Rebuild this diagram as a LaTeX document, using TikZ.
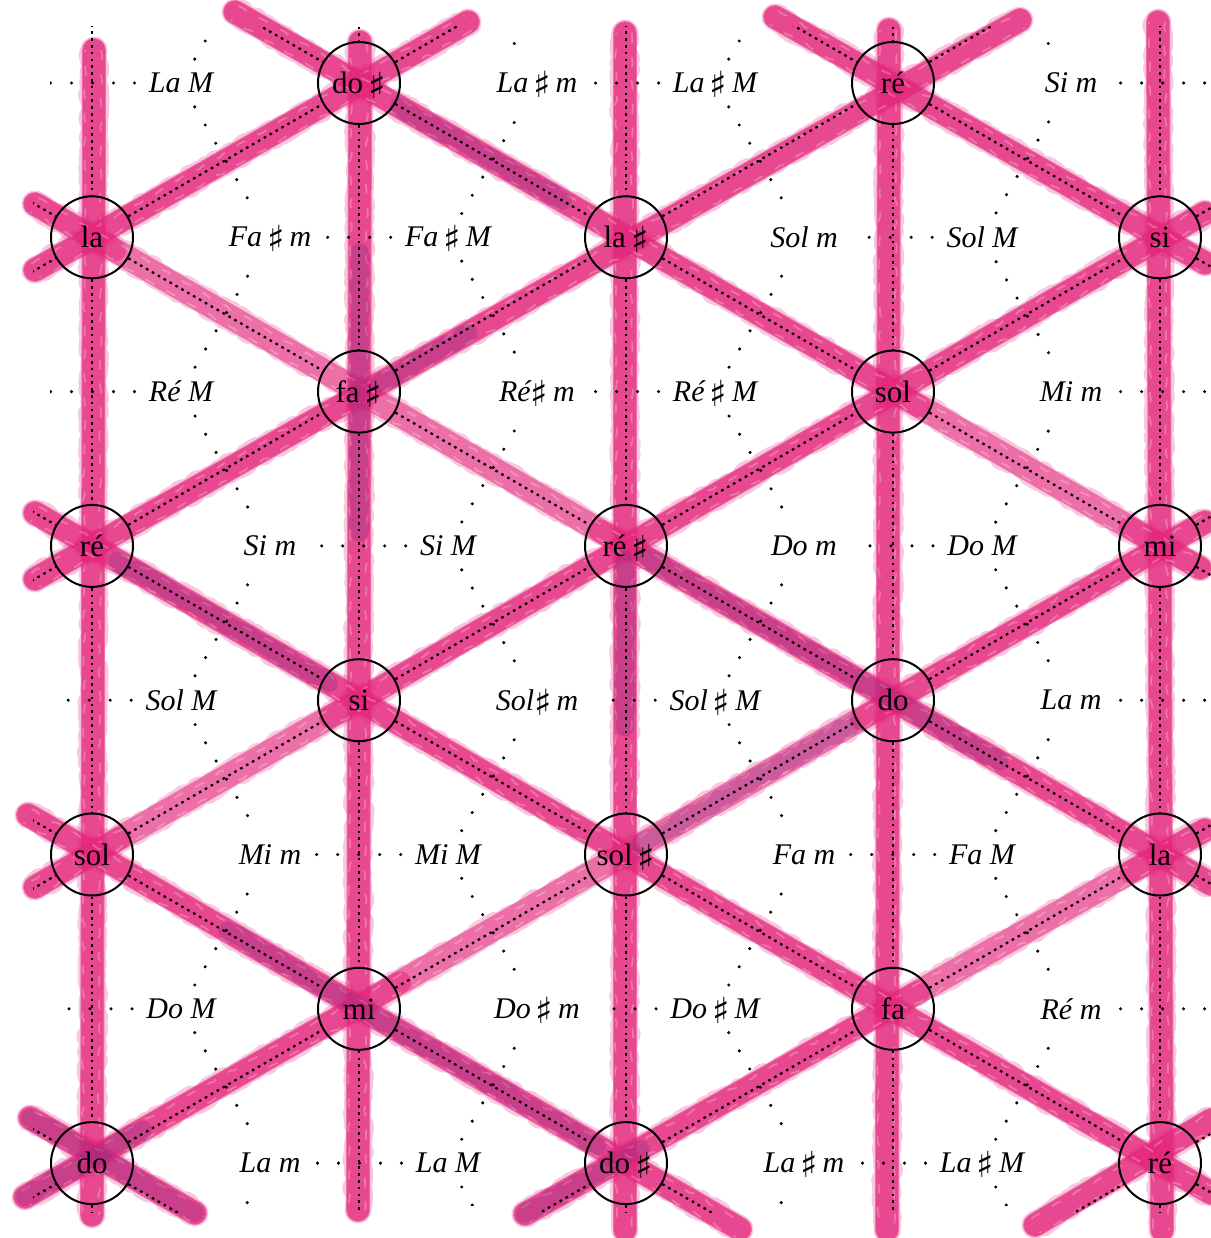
\documentclass[tikz,border=0pt]{standalone}
\usepackage{fontspec}
\setmainfont{Liberation Serif}
\newfontfamily\symf{DejaVu Sans}
\newcommand\shp{\smash{\raisebox{-2.5pt}{\symf\fontsize{18}{20}\selectfont ♯}}}
\usetikzlibrary{calc,decorations.pathmorphing}
\definecolor{pinkc}{RGB}{228,40,125}
\definecolor{purplec}{RGB}{135,45,125}
\tikzset{
  crayonbase/.style={line width=12pt, color=pinkc, opacity=0.55, line cap=round},
  crayonrough/.style={line width=13.5pt, color=pinkc, opacity=0.25, line cap=round, line join=round,
     decorate, decoration={random steps, segment length=2pt, amplitude=1.2pt}},
  crayondense/.style={line width=11pt, color=pinkc, opacity=0.55, line cap=round},
  crayonpurple/.style={line width=9pt, color=purplec, opacity=0.3, line cap=round, line join=round,
     decorate, decoration={random steps, segment length=2pt, amplitude=1pt}},
  streak/.style={line width=0.9pt, color=white, opacity=0.25, dash pattern=on 5pt off 7pt,
     line join=round, decorate, decoration={random steps, segment length=3pt, amplitude=0.6pt}},
  note/.style={circle, draw=black, line width=1pt, minimum size=41pt, inner sep=0pt,
     font=\fontsize{15.5}{18}\selectfont},
  ghostnote/.style={circle, minimum size=41pt, inner sep=0pt},
  chord/.style={font=\fontsize{15}{18}\selectfont\itshape, inner xsep=5pt, inner ysep=5pt},
  ghostchord/.style={minimum width=40pt, minimum height=20pt, inner sep=0pt},
  primdot/.style={line width=1.1pt, dash pattern=on 1.3pt off 2.1pt, black},
  dualdot/.style={line width=1.7pt, line cap=round, dash pattern=on 0pt off 10.5pt, black,
     shorten <=2pt, shorten >=2pt}
}
\newcommand\pinkline[3]{%
  \draw[crayonbase] #1 -- #2;
  \draw[crayonrough] #1 -- #2;
  \foreach \ta/\tb in {#3}{\draw[crayondense] ($#1!\ta!#2$) -- ($#1!\tb!#2$);}
  \draw[streak] ($#1!3.5pt!90:#2$) -- ($#2!3.5pt!-90:#1$);
  \draw[streak, dash phase=4pt] ($#1!4.5pt!-90:#2$) -- ($#2!4.5pt!90:#1$);
}
\newcommand\purpleseg[4]{\draw[crayonpurple] ($#1!#3!#2$) -- ($#1!#4!#2$);}
\begin{document}
\begin{tikzpicture}[x=0.5pt, y=-0.5pt]
\useasboundingbox (0,0) rectangle (1211,1238);
\fill[white] (0,0) rectangle (1211,1238);

% ---- crayon lines ----
\pinkline{(94,50)}{(92,1215)}{0/1}
\pinkline{(360,42)}{(358,1210)}{0/1}
\pinkline{(625,33)}{(625,1230)}{0/1}
\pinkline{(889,30)}{(887,1230)}{0/1}
\pinkline{(1158,22)}{(1162,1230)}{0/1}
\pinkline{(35,270)}{(468,22)}{0/1}
\pinkline{(35,579)}{(1020,20)}{0/1}
\pinkline{(35,887)}{(1205,213)}{0/0.073,0.252/1}
\pinkline{(25,1197)}{(1205,522)}{0/0.318,0.708/1}
\pinkline{(525,1214)}{(1205,830)}{0/0.58,0.89/1}
\pinkline{(1035,1225)}{(1211,1120)}{0/1}
\pinkline{(235,12)}{(1200,568)}{0/0.71,0.927/1}
\pinkline{(775,17)}{(1205,263)}{0/1}
\pinkline{(35,204)}{(1211,884)}{0/0.068,0.48/1}
\pinkline{(35,513)}{(1211,1193)}{0/1}
\pinkline{(28,815)}{(740,1229)}{0/1}
\pinkline{(30,1118)}{(195,1213)}{0/1}
\purpleseg{(360,42)}{(358,1210)}{0.18}{0.42}
\purpleseg{(625,33)}{(625,1230)}{0.44}{0.58}
\purpleseg{(35,579)}{(1020,20)}{0.35}{0.44}
\purpleseg{(25,1197)}{(1205,522)}{0}{0.1}
\purpleseg{(25,1197)}{(1205,522)}{0.52}{0.7}
\purpleseg{(525,1214)}{(1205,830)}{0}{0.17}
\purpleseg{(235,12)}{(1200,568)}{0.17}{0.34}
\purpleseg{(35,204)}{(1211,884)}{0.52}{0.82}
\purpleseg{(35,513)}{(1211,1193)}{0.07}{0.25}
\purpleseg{(28,815)}{(740,1229)}{0.28}{0.8}
\purpleseg{(30,1118)}{(195,1213)}{0}{1}

% ---- lattice nodes (ghosts outside the sheet) ----
\foreach \ii in {0,...,6}{\foreach \jj in {0,...,11}{
  \pgfmathtruncatemacro\myp{mod(\ii+\jj,2)}
  \ifnum\myp=0
    \node[ghostnote] (N-\ii-\jj) at ({92+267*(\ii-1)},{83+154.3*(\jj-2)}) {};
  \fi
}}
\foreach \ii/\jj/\t in {2/2/{do\,\shp}, 4/2/{ré},
   1/3/{la}, 3/3/{la\,\shp}, 5/3/{si},
   2/4/{fa\,\shp}, 4/4/{sol},
   1/5/{ré}, 3/5/{ré\,\shp}, 5/5/{mi},
   2/6/{si}, 4/6/{do},
   1/7/{sol}, 3/7/{sol\,\shp}, 5/7/{la},
   2/8/{mi}, 4/8/{fa},
   1/9/{do}, 3/9/{do\,\shp}, 5/9/{ré}}{
  \node[note] (N-\ii-\jj) at ({92+267*(\ii-1)},{83+154.3*(\jj-2)}) {\t};
}

% ---- chord nodes (ghosts outside the sheet) ----
\foreach \gg in {0,...,5}{\foreach \jj in {0,...,9}{
  \node[ghostchord] (D-\gg-\jj) at ({92+267*(\gg-1+1/3+mod(\gg+\jj,2)/3)},{83+154.3*(\jj-1)}) {};
}}
\foreach \gg/\jj/\t in {
   1/1/{La M}, 2/1/{La\,\shp\,m}, 3/1/{La\,\shp\,M}, 4/1/{Si m},
   1/2/{Fa\,\shp\,m}, 2/2/{Fa\,\shp\,M}, 3/2/{Sol m}, 4/2/{Sol M},
   1/3/{Ré M}, 2/3/{Ré\shp\,m}, 3/3/{Ré\,\shp\,M}, 4/3/{Mi m},
   1/4/{Si m}, 2/4/{Si M}, 3/4/{Do m}, 4/4/{Do M},
   1/5/{Sol M}, 2/5/{Sol\shp\,m}, 3/5/{Sol\,\shp\,M}, 4/5/{La m},
   1/6/{Mi m}, 2/6/{Mi M}, 3/6/{Fa m}, 4/6/{Fa M},
   1/7/{Do M}, 2/7/{Do\,\shp\,m}, 3/7/{Do\,\shp\,M}, 4/7/{Ré m},
   1/8/{La m}, 2/8/{La M}, 3/8/{La\,\shp\,m}, 4/8/{La\,\shp\,M}}{
  \node[chord] (D-\gg-\jj) at ({92+267*(\gg-1+1/3+mod(\gg+\jj,2)/3)},{83+154.3*(\jj-1)}) {\t};
}

% ---- dotted lattice edges ----
\begin{scope}
\clip (33,26) rectangle (1211,1212);
\foreach \ii in {0,...,6}{\foreach \jj in {0,...,11}{
  \pgfmathtruncatemacro\myp{mod(\ii+\jj,2)}
  \ifnum\myp=0
    \pgfmathtruncatemacro\knext{\ii+1}
    \pgfmathtruncatemacro\kup{\jj-1}
    \pgfmathtruncatemacro\kdn{\jj+1}
    \pgfmathtruncatemacro\kvv{\jj+2}
    \ifnum\kvv<12 \draw[primdot] (N-\ii-\jj) -- (N-\ii-\kvv);\fi
    \ifnum\knext<7
      \ifnum\kup>-1 \draw[primdot] (N-\ii-\jj) -- (N-\knext-\kup);\fi
      \ifnum\kdn<12 \draw[primdot] (N-\ii-\jj) -- (N-\knext-\kdn);\fi
    \fi
  \fi
}}
\end{scope}

% ---- dotted dual edges ----
\begin{scope}
\clip (50,30) rectangle (1211,1205);
\foreach \gg in {0,...,5}{\foreach \jj in {0,...,9}{
  \pgfmathtruncatemacro\myp{mod(\gg+\jj,2)}
  \ifnum\myp=0
    \pgfmathtruncatemacro\kup{\jj-1}
    \pgfmathtruncatemacro\kdn{\jj+1}
    \pgfmathtruncatemacro\kprev{\gg-1}
    \ifnum\kup>-1 \draw[dualdot] (D-\gg-\jj) -- (D-\gg-\kup);\fi
    \ifnum\kdn<10 \draw[dualdot] (D-\gg-\jj) -- (D-\gg-\kdn);\fi
    \ifnum\kprev>-1 \draw[dualdot] (D-\gg-\jj) -- (D-\kprev-\jj);\fi
  \fi
}}
\end{scope}
\end{tikzpicture}
\end{document}
